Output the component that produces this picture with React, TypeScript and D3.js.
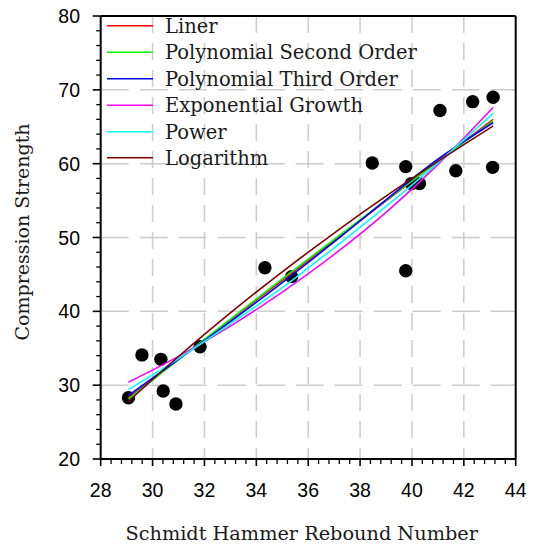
import React from 'react';
import * as d3 from 'd3';

// Observed data points (Schmidt hammer rebound number, compression strength)
const pointX = [29.07, 29.59, 30.32, 30.41, 30.9, 31.83, 34.33, 35.36, 38.47, 39.76, 39.98, 40.29, 39.76, 41.08, 41.69, 42.34, 43.13, 43.11];
const pointY = [28.3, 34.1, 33.5, 29.2, 27.45, 35.2, 45.9, 44.7, 60.1, 59.6, 57.3, 57.3, 45.5, 67.2, 59.05, 68.4, 69.0, 59.5];

// Fitted curves
const fitX = [29.07, 31, 33, 35, 37, 39, 41, 43.13];
const linerY = [28.3, 33.5, 38.85, 44.2, 49.6, 54.95, 60.3, 66.0];
const poly2Y = [28.1, 33.46, 38.96, 44.39, 49.75, 55.05, 60.29, 65.8];
const poly3Y = [28.6, 33.5, 38.6, 43.9, 49.4, 55.1, 60.6, 65.55];
const expY = [30.4, 33.9, 38.0, 42.6, 47.7, 53.4, 59.9, 67.6];
const powerY = [29.4, 33.6, 38.3, 43.2, 48.6, 54.2, 60.1, 66.8];
const logY = [27.8, 33.88, 39.79, 45.35, 50.6, 55.6, 60.3, 65.1];

const seriesNames = ['Liner', 'Polynomial Second Order', 'Polynomial Third Order', 'Exponential Growth', 'Power', 'Logarithm'];
const seriesValues = [linerY, poly2Y, poly3Y, expY, powerY, logY];
const seriesColors = ['#ff0000', '#00ff00', '#0000ff', '#ff00ff', '#00ffff', '#800000'];

const xTicks = [28, 30, 32, 34, 36, 38, 40, 42, 44];
const yTicks = [20, 30, 40, 50, 60, 70, 80];

const xLabel = 'Schmidt Hammer Rebound Number';
const yLabel = 'Compression Strength';

const W = 534;
const H = 544;
const L = 100.7, R = 515.7, T = 16, B = 459;

export default function App() {
  const x = d3.scaleLinear().domain([28, 44]).range([L, R]);
  const y = d3.scaleLinear().domain([20, 80]).range([B, T]);

  const xMinor = d3.range(28, 44.001, 0.4).filter(v => Math.abs(v / 2 - Math.round(v / 2)) > 0.01);
  const yMinor = d3.range(20, 80.001, 2).filter(v => v % 10 !== 0);

  const line = d3.line<[number, number]>()
    .x(d => x(d[0]))
    .y(d => y(d[1]))
    .curve(d3.curveMonotoneX);

  const serif = "'DejaVu Serif', serif";
  const sans = "'Liberation Sans', Arial, sans-serif";

  const legendY = [25.7, 52.3, 78.7, 105.3, 131.7, 157.7];

  return (
    <svg width={W} height={H} style={{ position: 'absolute', left: 0, top: 0, background: '#fff' }}>
      <rect x={0} y={0} width={W} height={H} fill="#fff" />
      {/* grid */}
      {xTicks.slice(1, -1).map(v => (
        <line key={'gx' + v} x1={x(v)} x2={x(v)} y1={T} y2={B} stroke="#cccccc" strokeWidth={1.5} strokeDasharray="17,10" />
      ))}
      {yTicks.slice(1, -1).map(v => (
        <line key={'gy' + v} x1={L} x2={R} y1={y(v)} y2={y(v)} stroke="#cccccc" strokeWidth={1.5} strokeDasharray="28,11" />
      ))}
      {/* frame */}
      <line x1={L} x2={R} y1={T} y2={T} stroke="#000" strokeWidth={2} />
      <line x1={R} x2={R} y1={T} y2={B} stroke="#000" strokeWidth={2} />
      <line x1={L} x2={R} y1={B} y2={B} stroke="#000" strokeWidth={2} />
      <line x1={L} x2={L} y1={T} y2={B} stroke="#000" strokeWidth={2} />
      {/* x ticks */}
      {xTicks.map(v => (
        <line key={'xt' + v} x1={x(v)} x2={x(v)} y1={B} y2={B + 7} stroke="#000" strokeWidth={1.6} />
      ))}
      {xMinor.map(v => (
        <line key={'xm' + v} x1={x(v)} x2={x(v)} y1={B} y2={B + 5} stroke="#000" strokeWidth={1.3} />
      ))}
      {xTicks.map(v => (
        <text key={'xl' + v} x={x(v)} y={497} textAnchor="middle" fontFamily={sans} fontSize={19.5} fill="#000">{v}</text>
      ))}
      {/* y ticks */}
      {yTicks.map(v => (
        <line key={'yt' + v} x1={L - 8} x2={L} y1={y(v)} y2={y(v)} stroke="#000" strokeWidth={1.6} />
      ))}
      {yMinor.map(v => (
        <line key={'ym' + v} x1={L - 4.5} x2={L} y1={y(v)} y2={y(v)} stroke="#000" strokeWidth={1.3} />
      ))}
      {yTicks.map(v => (
        <text key={'yl' + v} x={80} y={y(v) + 7} textAnchor="end" fontFamily={sans} fontSize={19.5} fill="#000">{v}</text>
      ))}
      {/* axis titles */}
      <text x={301.7} y={540} textAnchor="middle" fontFamily={serif} fontSize={19.3} fill="#1a1a1a">{xLabel}</text>
      <text transform={`translate(29, 232) rotate(-90)`} textAnchor="middle" fontFamily={serif} fontSize={19} fill="#1a1a1a">{yLabel}</text>
      {/* points */}
      {pointX.map((px, i) => (
        <circle key={'p' + i} cx={x(px)} cy={y(pointY[i])} r={6.7} fill="#000" />
      ))}
      {/* fits */}
      {seriesValues.map((vals, si) => (
        <path key={'s' + si} d={line(fitX.map((fx, i) => [fx, vals[i]] as [number, number])) || ''} fill="none" stroke={seriesColors[si]} strokeWidth={1.6} />
      ))}
      {/* legend */}
      {seriesNames.map((name, i) => (
        <g key={'lg' + i}>
          <line x1={107} x2={153} y1={legendY[i]} y2={legendY[i]} stroke={seriesColors[i]} strokeWidth={1.6} />
          <text x={165} y={legendY[i] + 7} fontFamily={serif} fontSize={19.5} fill="#1a1a1a">{name}</text>
        </g>
      ))}
    </svg>
  );
}
